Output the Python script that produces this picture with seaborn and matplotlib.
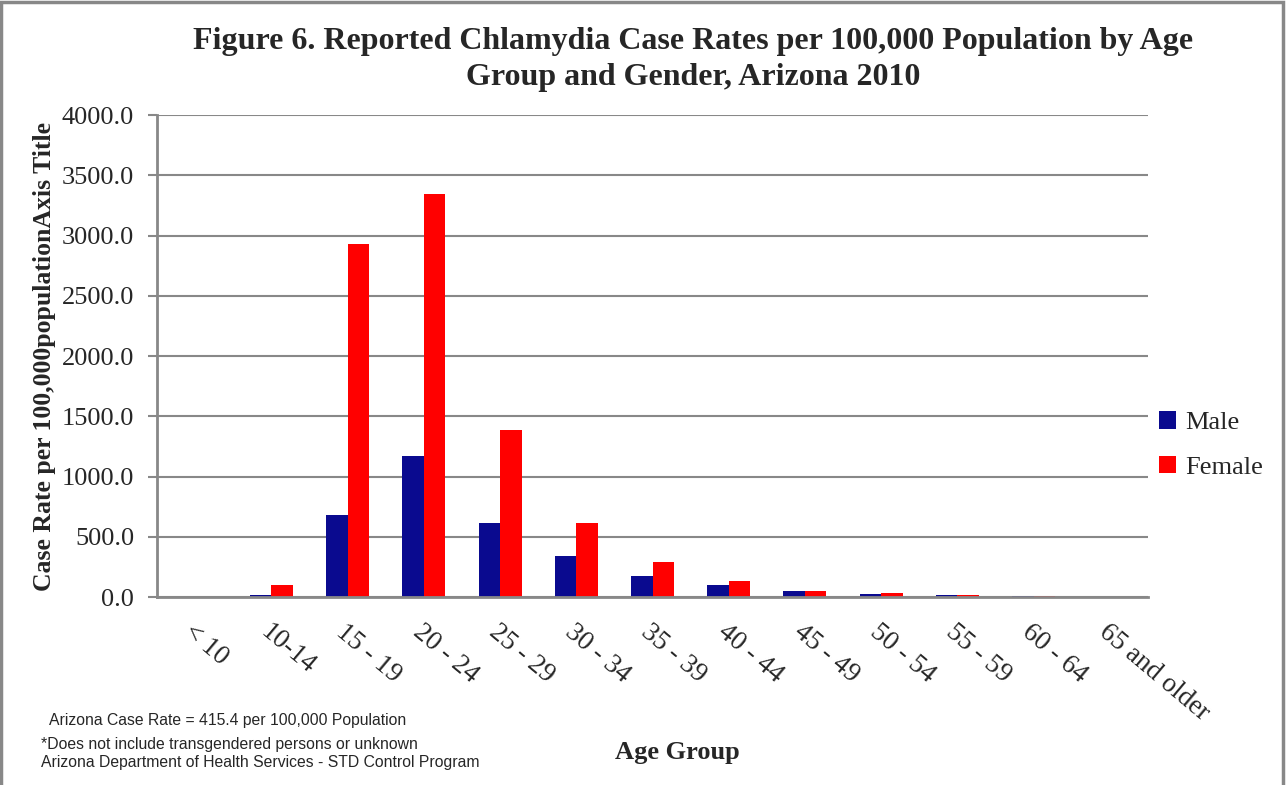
import seaborn as sns
import matplotlib.pyplot as plt
import pandas as pd
from matplotlib.patches import Rectangle

# data
age_groups = ["< 10", "10-14", "15 - 19", "20 - 24", "25 - 29", "30 - 34", "35 - 39",
              "40 - 44", "45 - 49", "50 - 54", "55 - 59", "60 - 64", "65 and older"]
male = [1, 13, 678, 1172, 612, 339, 178, 97, 47, 25, 14, 5, 2]
female = [2, 100, 2933, 3347, 1387, 614, 289, 130, 53, 31, 13, 5, 2]
genders = ["Male", "Female"]
colors = ["#0A0A8F", "#FF0000"]

df = pd.DataFrame({
    "Age Group": age_groups * 2,
    "Rate": male + female,
    "Gender": ["Male"] * len(age_groups) + ["Female"] * len(age_groups),
})

sns.set_style("white")
plt.rcParams["font.family"] = ["Liberation Serif", "DejaVu Serif"]

fig = plt.figure(figsize=(12.86, 7.85), dpi=100)
ax = fig.add_axes([157 / 1286, 1 - 597 / 785, (1148 - 157) / 1286, (597 - 115) / 785])

sns.barplot(data=df, x="Age Group", y="Rate", hue="Gender", hue_order=genders,
            palette=colors, width=0.565, ax=ax, errorbar=None, saturation=1,
            edgecolor="none", zorder=3)

ax.set_ylim(0, 4000)
ax.set_xlim(-0.5, len(age_groups) - 0.5)
ax.set_yticks(range(0, 4001, 500))
ax.set_yticklabels([f"{v:.1f}" for v in range(0, 4001, 500)], fontsize=19)
ax.yaxis.grid(True, color="#888888", linewidth=1.5, zorder=0)
ax.tick_params(axis="y", length=6.5, width=1.5, color="#888888", pad=10, left=True)
ax.tick_params(axis="x", length=0, pad=16)
ax.set_xticks(range(len(age_groups)))
ax.set_xticklabels(age_groups, rotation=-40, ha="left", va="top",
                   rotation_mode="anchor", fontsize=19.5)

for side in ["top", "right"]:
    ax.spines[side].set_visible(False)
for side in ["left", "bottom"]:
    ax.spines[side].set_color("#888888")
    ax.spines[side].set_linewidth(2)
    ax.spines[side].set_zorder(4)

ax.set_xlabel("")
ax.set_ylabel("Case Rate per 100,000populationAxis Title", fontsize=18.5,
              fontweight="bold", labelpad=4)

leg = ax.legend(loc="center left", bbox_to_anchor=(1159 / 1286, 1 - 445 / 785),
                bbox_transform=fig.transFigure, frameon=False, fontsize=19,
                handlelength=0.65, handleheight=0.65, handletextpad=0.35,
                labelspacing=0.8, borderaxespad=0, borderpad=0)

fig.text(0.539, 1 - 42 / 785, "Figure 6. Reported Chlamydia Case Rates per 100,000 Population by Age",
         ha="center", va="center", fontsize=23, fontweight="bold")
fig.text(0.539, 1 - 77 / 785, "Group and Gender, Arizona 2010",
         ha="center", va="center", fontsize=23, fontweight="bold")
fig.text(677 / 1286, 1 - 752 / 785, "Age Group", ha="center", va="center",
         fontsize=19, fontweight="bold")

note_font = ["Liberation Sans", "DejaVu Sans"]
fig.text(49 / 1286, 1 - 720 / 785, "Arizona Case Rate = 415.4 per 100,000 Population",
         ha="left", va="center", fontsize=11.3, family=note_font)
fig.text(41 / 1286, 1 - 745 / 785, "*Does not include transgendered persons or unknown",
         ha="left", va="center", fontsize=11.3, family=note_font)
fig.text(41 / 1286, 1 - 762 / 785, "Arizona Department of Health Services - STD Control Program",
         ha="left", va="center", fontsize=11.3, family=note_font)

fig.patches.append(Rectangle((0.001, -0.05), 0.997, 1.047, transform=fig.transFigure,
                             fill=False, edgecolor="#888888", linewidth=2.5))

fig.savefig("out.png", dpi=100)
